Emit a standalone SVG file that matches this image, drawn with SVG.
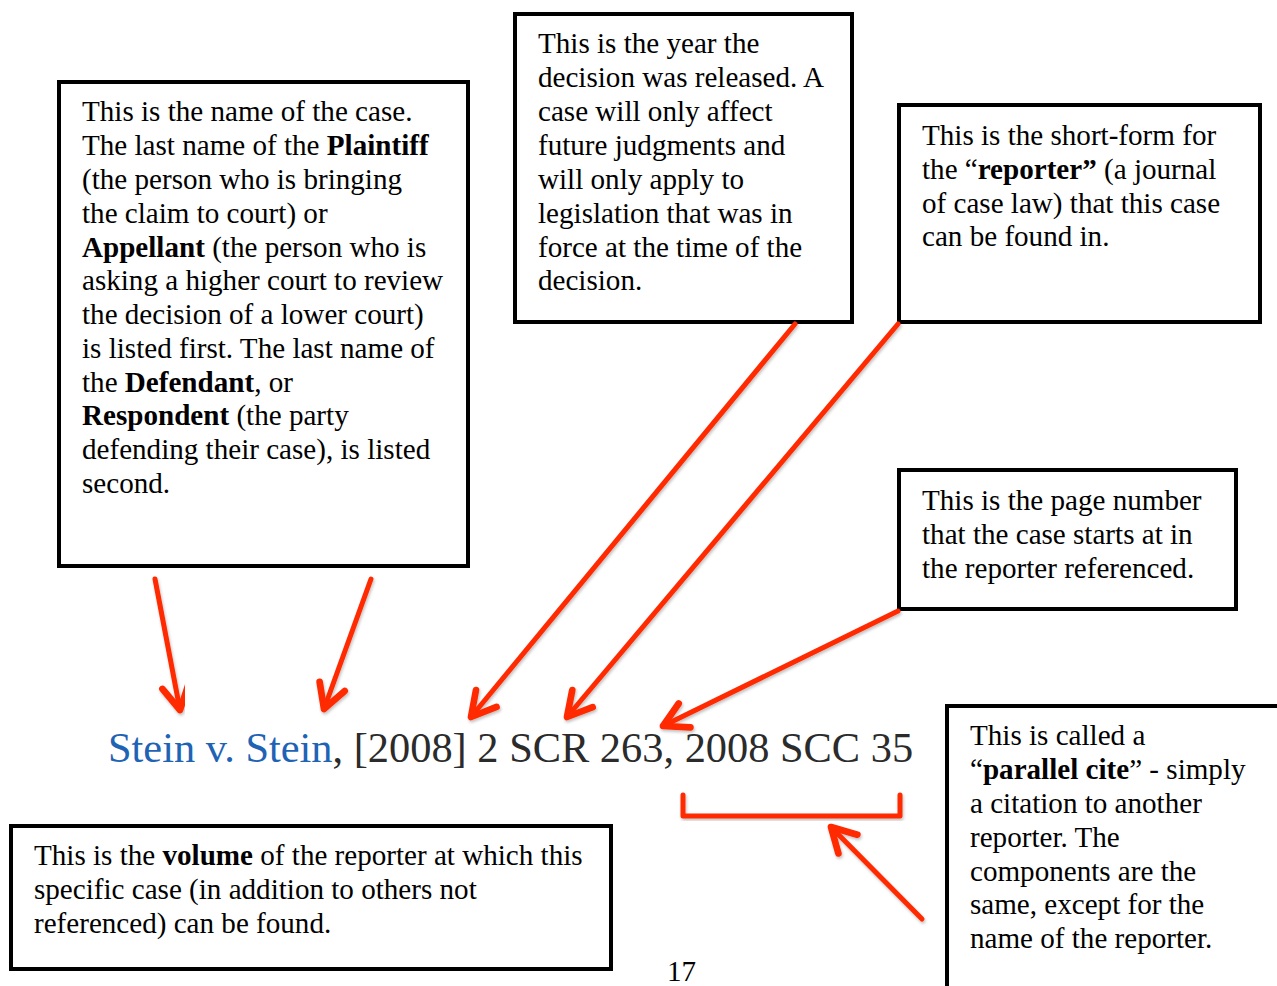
<svg xmlns="http://www.w3.org/2000/svg" width="1277" height="986" viewBox="0 0 1277 986">
<style>
.box{fill:#fff;stroke:#000;stroke-width:4}
.t{font-family:"Liberation Serif","Times New Roman",serif;font-size:29.1px;fill:#000}
.b{font-weight:bold}
.arr{fill:none;stroke:#ff2a00;stroke-width:5;stroke-linecap:round;stroke-linejoin:round;marker-end:url(#head);filter:url(#sh)}
.cite{font-family:"Liberation Serif","Times New Roman",serif;font-size:42.4px;fill:#2b2b2b}
</style>
<defs>
<filter id="sh" x="-20%" y="-20%" width="140%" height="140%">
<feDropShadow dx="1" dy="2" stdDeviation="1.5" flood-color="#000" flood-opacity="0.25"/>
</filter>
<marker id="head" markerUnits="userSpaceOnUse" orient="auto" markerWidth="40" markerHeight="40" viewBox="-25 -15 30 30" refX="0" refY="0">
<path d="M-18,-10 L0,0 L-18,10" fill="none" stroke="#ff2a00" stroke-width="5" stroke-linecap="round" stroke-linejoin="round"/>
</marker>
</defs>

<g id="box-name">
<rect class="box" x="59" y="82" width="409" height="484"/>
<text class="t" x="82" y="121">This is the name of the case.</text>
<text class="t" x="82" y="155">The last name of the <tspan class="b">Plaintiff</tspan></text>
<text class="t" x="82" y="189">(the person who is bringing</text>
<text class="t" x="82" y="223">the claim to court) or</text>
<text class="t" x="82" y="257"><tspan class="b">Appellant</tspan> (the person who is</text>
<text class="t" x="82" y="290">asking a higher court to review</text>
<text class="t" x="82" y="324">the decision of a lower court)</text>
<text class="t" x="82" y="358">is listed first. The last name of</text>
<text class="t" x="82" y="392">the <tspan class="b">Defendant</tspan>, or</text>
<text class="t" x="82" y="425"><tspan class="b">Respondent</tspan> (the party</text>
<text class="t" x="82" y="459">defending their case), is listed</text>
<text class="t" x="82" y="493">second.</text>
</g>

<g id="box-year">
<rect class="box" x="515" y="14" width="337" height="308"/>
<text class="t" x="538" y="53">This is the year the</text>
<text class="t" x="538" y="87">decision was released. A</text>
<text class="t" x="538" y="121">case will only affect</text>
<text class="t" x="538" y="155">future judgments and</text>
<text class="t" x="538" y="189">will only apply to</text>
<text class="t" x="538" y="223">legislation that was in</text>
<text class="t" x="538" y="257">force at the time of the</text>
<text class="t" x="538" y="290">decision.</text>
</g>

<g id="box-reporter">
<rect class="box" x="899" y="105" width="361" height="217"/>
<text class="t" x="922" y="145">This is the short-form for</text>
<text class="t" x="922" y="179">the “<tspan class="b">reporter”</tspan> (a journal</text>
<text class="t" x="922" y="213">of case law) that this case</text>
<text class="t" x="922" y="246">can be found in.</text>
</g>

<g id="box-page">
<rect class="box" x="899" y="470" width="337" height="139"/>
<text class="t" x="922" y="510">This is the page number</text>
<text class="t" x="922" y="544">that the case starts at in</text>
<text class="t" x="922" y="578">the reporter referenced.</text>
</g>

<g id="box-volume">
<rect class="box" x="11" y="826" width="600" height="143"/>
<text class="t" x="34" y="865">This is the <tspan class="b">volume</tspan> of the reporter at which this</text>
<text class="t" x="34" y="899">specific case (in addition to others not</text>
<text class="t" x="34" y="933">referenced) can be found.</text>
</g>

<g id="box-parallel">
<rect class="box" x="947" y="706" width="340" height="300"/>
<text class="t" x="970" y="745">This is called a</text>
<text class="t" x="970" y="779">“<tspan class="b">parallel cite</tspan>” - simply</text>
<text class="t" x="970" y="813">a citation to another</text>
<text class="t" x="970" y="847">reporter. The</text>
<text class="t" x="970" y="881">components are the</text>
<text class="t" x="970" y="914">same, except for the</text>
<text class="t" x="970" y="948">name of the reporter.</text>
</g>

<g id="citation">
<text class="cite" x="108" y="762"><tspan fill="#1e63b4">Stein v. Stein</tspan>, [2008] 2 SCR 263, 2008 SCC 35</text>
</g>

<g id="page-number">
<text class="t" x="667" y="981">17</text>
</g>

<g id="connectors">
<path class="arr" d="M155,579 L180,710"/>
<path class="arr" d="M371,579 L324,709"/>
<path class="arr" d="M795,324 L471,717"/>
<path class="arr" d="M898,324 L567,717"/>
<path class="arr" d="M898,611 L663,726"/>
<path class="arr" d="M492,823 L492,760"/>
<path class="arr" d="M922,919 L831,827"/>
<path d="M683,795 L683,816 L900,816 L900,795" fill="none" stroke="#ff2a00" stroke-width="5" stroke-linecap="round" stroke-linejoin="round" filter="url(#sh)"/>
</g>
</svg>
